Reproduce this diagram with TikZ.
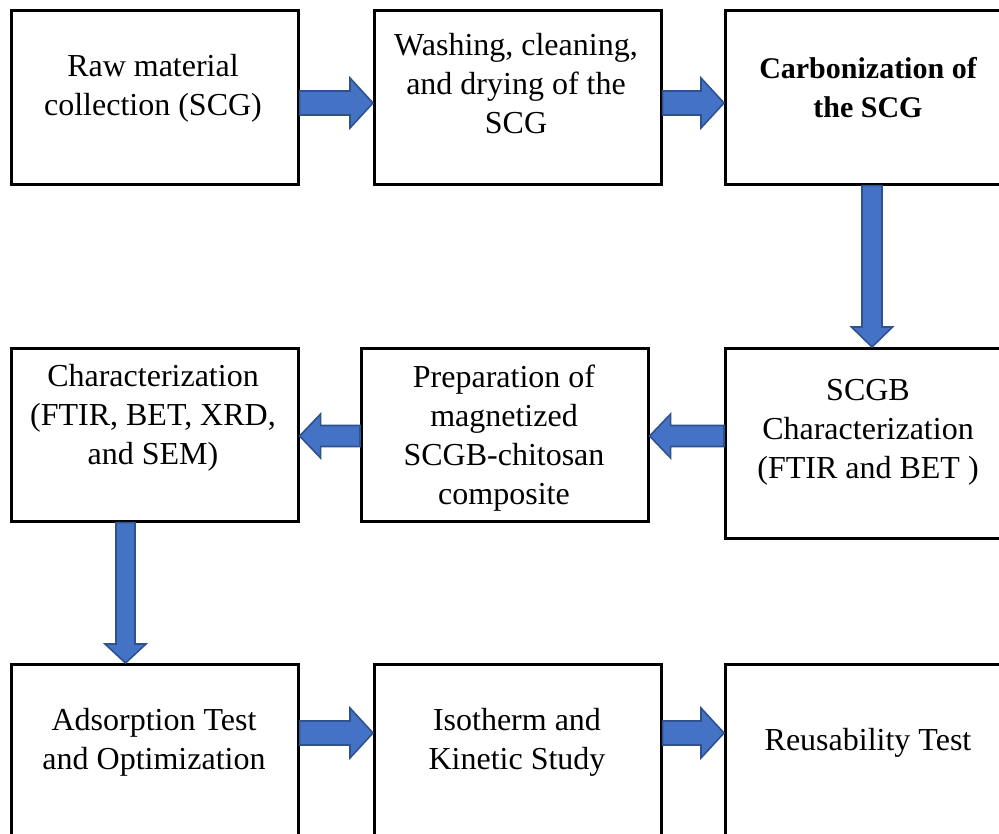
\documentclass[tikz,border=0pt]{standalone}
\usepackage{fontspec}
\setmainfont{Liberation Serif}
\usetikzlibrary{calc}
\definecolor{arrfill}{HTML}{4472C4}
\definecolor{arrline}{HTML}{2F528F}
\tikzset{
  box/.style={draw=black, line width=2.6pt, fill=white, anchor=north west, minimum width=287pt, inner sep=0pt},
  lbl/.style={align=center, font=\fontsize{32}{39}\selectfont, inner sep=0pt},
  barrow/.style={fill=arrfill, draw=arrline, line width=1.6pt, line join=miter}
}
\newcommand\blockarrow[5]{%
  \coordinate (bah) at ($(#2)!#5!(#1)$);
  \filldraw[barrow] ($(#1)!#3!90:(#2)$) -- ($(bah)!#3!90:(#2)$) -- ($(bah)!#4!90:(#2)$) -- (#2)
     -- ($(bah)!#4!-90:(#2)$) -- ($(bah)!#3!-90:(#2)$) -- ($(#1)!#3!-90:(#2)$) -- cycle;}
\begin{document}
\begin{tikzpicture}[x=1pt,y=-1pt]
\useasboundingbox (0,0) rectangle (999,834);
\clip (0,0) rectangle (999,834);
\fill[white] (0,0) rectangle (999,834);
% boxes
\node[box, minimum height=174pt] (b1) at (10,9) {};
\node[box, minimum height=174pt] (b2) at (373,9) {};
\node[box, minimum height=174pt] (b3) at (724,9) {};
\node[box, minimum height=173pt] (b4) at (10,347) {};
\node[box, minimum height=173pt] (b5) at (360,347) {};
\node[box, minimum height=190pt] (b6) at (724,347) {};
\node[box, minimum height=200pt] (b7) at (10,663) {};
\node[box, minimum height=200pt] (b8) at (373,663) {};
\node[box, minimum height=200pt] (b9) at (724,663) {};
% labels
\node[lbl] (t1) at (153,88) {Raw material\\collection (SCG)};
\node[lbl] (t2) at (516,84) {Washing, cleaning,\\and drying of the\\SCG};
\node[lbl, font=\fontsize{30}{39}\selectfont\bfseries] (t3) at (868,88) {Carbonization of\\the SCG};
\node[lbl] (t4) at (153,418) {Characterization\\(FTIR, BET, XRD,\\and SEM)};
\node[lbl] (t5) at (504,438) {Preparation of\\magnetized\\SCGB-chitosan\\composite};
\node[lbl] (t6) at (868,432) {SCGB\\Characterization\\(FTIR and BET )};
\node[lbl] (t7) at (154,742) {Adsorption Test\\and Optimization};
\node[lbl] (t8) at (517,742) {Isotherm and\\Kinetic Study};
\node[lbl] (t9) at (868,743) {Reusability Test};
% connector end points
\coordinate (a1s) at (b1.east |- 0,103); \coordinate (a1e) at (b2.west |- 0,103);
\coordinate (a2s) at (b2.east |- 0,103); \coordinate (a2e) at (b3.west |- 0,103);
\coordinate (a3s) at (b3.south -| 872,0); \coordinate (a3e) at (b6.north -| 872,0);
\coordinate (a4s) at (b6.west |- 0,436); \coordinate (a4e) at (b5.east |- 0,436);
\coordinate (a5s) at (b5.west |- 0,436); \coordinate (a5e) at (b4.east |- 0,436);
\coordinate (a6s) at (b4.south -| 125.5,0); \coordinate (a6e) at (b7.north -| 125.5,0);
\coordinate (a7s) at (b7.east |- 0,733); \coordinate (a7e) at (b8.west |- 0,733);
\coordinate (a8s) at (b8.east |- 0,733); \coordinate (a8e) at (b9.west |- 0,733);
% block arrows
\blockarrow{a1s}{a1e}{12pt}{25pt}{23pt}
\blockarrow{a2s}{a2e}{12pt}{25pt}{23pt}
\blockarrow{a3s}{a3e}{10pt}{20.5pt}{20pt}
\blockarrow{a4s}{a4e}{10.5pt}{22pt}{21pt}
\blockarrow{a5s}{a5e}{10.5pt}{22pt}{21pt}
\blockarrow{a6s}{a6e}{9.5pt}{20.5pt}{19pt}
\blockarrow{a7s}{a7e}{12pt}{25pt}{23pt}
\blockarrow{a8s}{a8e}{12pt}{25pt}{23pt}
\end{tikzpicture}
\end{document}
